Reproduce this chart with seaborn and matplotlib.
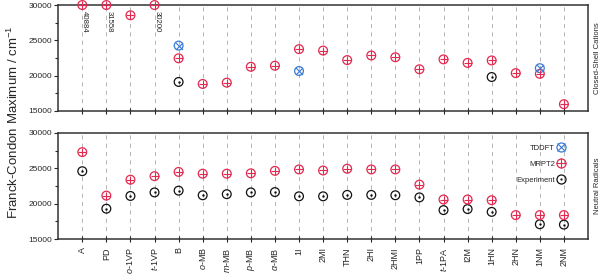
import numpy as np
import pandas as pd
import seaborn as sns
import matplotlib.pyplot as plt
from matplotlib.lines import Line2D
from matplotlib.ticker import MultipleLocator

categories = ["A", "PD", "o-1VP", "t-1VP", "B", "o-MB", "m-MB", "p-MB", "α-MB",
              "1I", "2MI", "THN", "2HI", "2HMI", "1PP", "t-1PA", "I2M", "1HN",
              "2HN", "1NM", "2NM"]
tick_labels = ["A", "PD", r"$\it{o}$-1VP", r"$\it{t}$-1VP", "B", r"$\it{o}$-MB",
               r"$\it{m}$-MB", r"$\it{p}$-MB", r"$\it{α}$-MB", "1I", "2MI", "THN",
               "2HI", "2HMI", "1PP", r"$\it{t}$-1PA", "I2M", "1HN", "2HN", "1NM", "2NM"]

nan = np.nan
# closed-shell cations
cat_mrpt2 = [40884, 31558, 28550, 30200, 22450, 18820, 19000, 21250, 21400, 23750,
             23550, 22200, 22850, 22600, 20900, 22300, 21800, 22150, 20350, 20250, 15950]
cat_tddft = [nan, nan, nan, nan, 24250, nan, nan, nan, nan, 20650,
             nan, nan, nan, nan, nan, nan, nan, nan, nan, 21050, nan]
cat_exp = [nan, nan, nan, nan, 19100, nan, nan, nan, nan, nan,
           nan, nan, nan, nan, nan, nan, nan, 19800, nan, nan, nan]
# neutral radicals
rad_mrpt2 = [27300, 21150, 23400, 23900, 24500, 24250, 24250, 24300, 24650, 24850,
             24700, 24950, 24850, 24850, 22700, 20600, 20600, 20500, 18400, 18400, 18400]
rad_exp = [24600, 19300, 21100, 21600, 21850, 21200, 21350, 21600, 21650, 21050,
           21050, 21250, 21250, 21200, 20900, 19100, 19250, 18850, nan, 17100, 17050]

RED = "#e3294f"
BLUE = "#3a7bd5"
BLACK = "#111111"
YMAX = 30000

sns.set_style("ticks")
plt.rcParams["font.family"] = ["Liberation Sans", "DejaVu Sans"]
plt.rcParams["mathtext.fontset"] = "custom"
plt.rcParams["mathtext.it"] = "Liberation Sans:italic"
plt.rcParams["mathtext.rm"] = "Liberation Sans"

fig = plt.figure(figsize=(6, 2.8), dpi=100)
ax_top = fig.add_axes([0.097, 0.604, 0.883, 0.378])
ax_bot = fig.add_axes([0.097, 0.146, 0.883, 0.379])

x = np.arange(len(categories))


def draw(ax, vals, color, inner):
    df = pd.DataFrame({"x": x, "y": vals}).dropna()
    df["y"] = df["y"].clip(upper=YMAX)
    sns.scatterplot(data=df, x="x", y="y", ax=ax, marker="o", s=40,
                    color=color, facecolor="none", edgecolor=color,
                    linewidth=0.9, clip_on=False, zorder=4, legend=False)
    if inner == "dot":
        sns.scatterplot(data=df, x="x", y="y", ax=ax, marker="o", s=3,
                        color=color, edgecolor=color, linewidth=0,
                        clip_on=False, zorder=5, legend=False)
    else:
        s = 40 if inner == "+" else 26
        sns.scatterplot(data=df, x="x", y="y", ax=ax, marker=inner, s=s,
                        color=color, linewidth=0.8, clip_on=False, zorder=5,
                        legend=False)


draw(ax_top, cat_exp, BLACK, "dot")
draw(ax_top, cat_mrpt2, RED, "+")
draw(ax_top, cat_tddft, BLUE, "x")
draw(ax_bot, rad_exp, BLACK, "dot")
draw(ax_bot, rad_mrpt2, RED, "+")

# off-scale values written below the clipped markers
for i, v in enumerate(cat_mrpt2):
    if v > YMAX:
        ax_top.text(i + 0.1, 29200, f"{v}", rotation=270, ha="center",
                    va="top", fontsize=5.6)

for ax in (ax_top, ax_bot):
    ax.set_xlim(-1, 21)
    ax.set_ylim(15000, 30000)
    ax.set_xticks(x)
    ax.yaxis.set_major_locator(MultipleLocator(5000))
    ax.yaxis.set_minor_locator(MultipleLocator(2500))
    ax.set_xlabel("")
    ax.set_ylabel("")
    ax.xaxis.grid(True, linestyle=(0, (5, 5)), color="#a8a8a8", linewidth=0.6)
    ax.tick_params(axis="y", labelsize=6, length=3, width=0.8, pad=1.5)
    ax.tick_params(axis="y", which="minor", length=2, width=0.8)
    ax.tick_params(axis="x", direction="inout", length=5, width=0.8)
    for sp in ax.spines.values():
        sp.set_visible(True)
        sp.set_linewidth(1.1)
        sp.set_color("#333333")

ax_top.set_xticklabels([])
ax_bot.set_xticklabels(tick_labels, rotation=90, fontsize=6.5)

ax_top.text(1.012, 0.5, "Closed-Shell Cations", transform=ax_top.transAxes,
            rotation=90, ha="left", va="center", fontsize=5.5)
ax_bot.text(1.012, 0.5, "Neutral Radicals", transform=ax_bot.transAxes,
            rotation=90, ha="left", va="center", fontsize=5.5)

fig.text(0.022, 0.565, "Franck-Condon Maximum / cm$^{-1}$", rotation=90,
         ha="center", va="center", fontsize=9.5)


def handle(color, inner):
    ring = Line2D([], [], marker="o", ls="", ms=6.5, mfc="none", mec=color, mew=0.9)
    if inner == "dot":
        mid = Line2D([], [], marker="o", ls="", ms=1.6, mfc=color, mec=color, mew=0)
    else:
        mid = Line2D([], [], marker=inner, ls="", ms=6.5 if inner == "+" else 5.2,
                     color=color, mew=0.8)
    return (ring, mid)


ax_bot.legend([handle(BLUE, "x"), handle(RED, "+"), handle(BLACK, "dot")],
              ["TDDFT", "MRPT2", "Experiment"], markerfirst=False, frameon=False,
              loc="upper right", bbox_to_anchor=(0.965, 0.935), fontsize=5.5,
              handlelength=1.0, handletextpad=0.3, labelspacing=1.15,
              borderaxespad=0.2)

fig.savefig("out.png", dpi=100)
